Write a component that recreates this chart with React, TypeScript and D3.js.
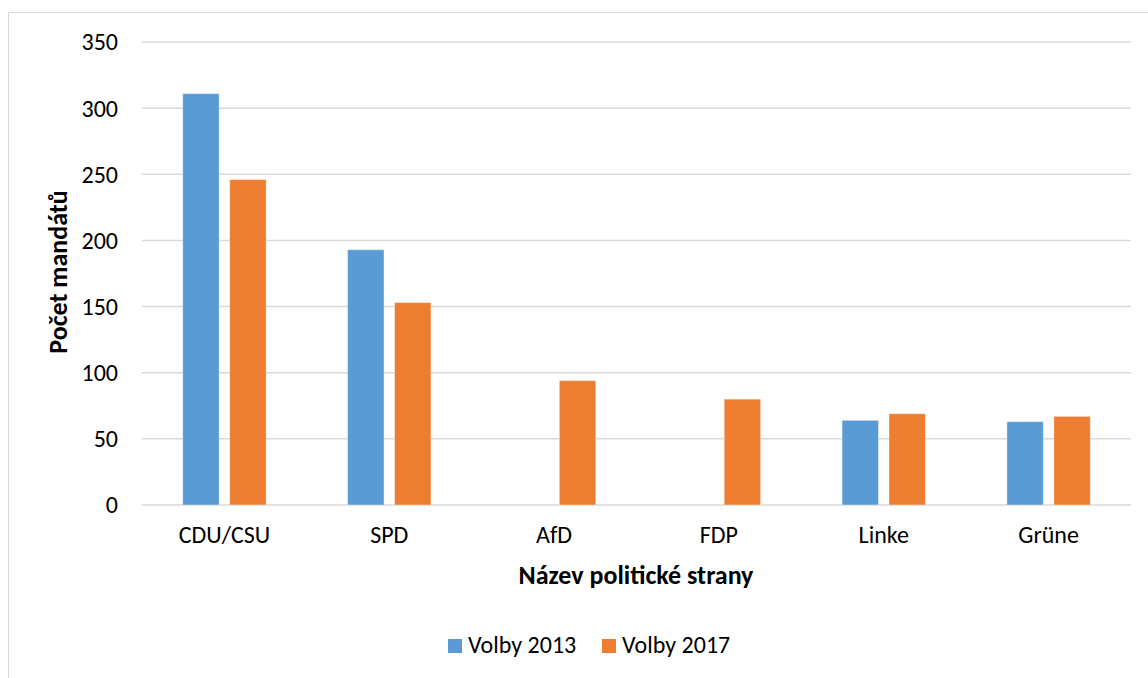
import React from 'react';
import * as d3 from 'd3';

const categories = ['CDU/CSU', 'SPD', 'AfD', 'FDP', 'Linke', 'Grüne'];
const volby2013 = [311, 193, 0, 0, 64, 63];
const volby2017 = [246, 153, 94, 80, 69, 67];
const yTicks = [0, 50, 100, 150, 200, 250, 300, 350];

const seriesList = [
  { name: 'Volby 2013', values: volby2013, color: '#5B9BD5' },
  { name: 'Volby 2017', values: volby2017, color: '#ED7D31' },
];

const width = 1148;
const height = 678;
const font = 'Carlito, Lato, Calibri, sans-serif';

export default function App() {
  const x = d3.scaleBand().domain(categories).range([142, 1131]).padding(0);
  const y = d3.scaleLinear().domain([0, 350]).range([505, 42]);

  const bw = x.bandwidth() * 0.221;
  const gap = x.bandwidth() * 0.064;

  return (
    <svg
      width={width}
      height={height}
      style={{ position: 'absolute', left: 0, top: 0, background: '#fff' }}
    >
      {/* chart frame */}
      <rect x={8.5} y={12.5} width={1300} height={1000} fill="none" stroke="#d9d9d9" strokeWidth={1} />

      {/* gridlines */}
      {yTicks.map(t => (
        <line key={t} x1={142} x2={1131} y1={y(t)} y2={y(t)} stroke="#d9d9d9" strokeWidth={1.5} />
      ))}

      {/* y tick labels */}
      {yTicks.map(t => (
        <text
          key={'l' + t}
          x={118}
          y={y(t)}
          dy="0.35em"
          textAnchor="end"
          fontFamily={font}
          fontSize={24}
          fill="#000"
        >
          {t}
        </text>
      ))}

      {/* bars */}
      {categories.map((c, i) => {
        const center = (x(c) ?? 0) + x.bandwidth() / 2;
        return seriesList.map((s, j) => {
          const v = s.values[i];
          if (!v) return null;
          const bx = j === 0 ? center - gap / 2 - bw : center + gap / 2;
          return (
            <rect
              key={c + s.name}
              x={bx}
              y={y(v)}
              width={bw}
              height={y(0) - y(v)}
              fill={s.color}
              stroke="#fff"
              strokeOpacity={0.4}
              strokeWidth={1}
            />
          );
        });
      })}

      {/* category labels */}
      {categories.map(c => (
        <text
          key={'c' + c}
          x={(x(c) ?? 0) + x.bandwidth() / 2}
          y={543}
          textAnchor="middle"
          fontFamily={font}
          fontSize={24}
          fill="#000"
        >
          {c}
        </text>
      ))}

      {/* axis titles */}
      <text
        x={636}
        y={584}
        textAnchor="middle"
        fontFamily={font}
        fontSize={26}
        fontWeight="bold"
        fill="#000"
      >
        Název politické strany
      </text>
      <text
        transform="translate(67,272) rotate(-90)"
        textAnchor="middle"
        fontFamily={font}
        fontSize={26}
        fontWeight="bold"
        fill="#000"
      >
        Počet mandátů
      </text>

      {/* legend */}
      {seriesList.map((s, j) => {
        const lx = 448 + j * 154;
        return (
          <g key={'lg' + s.name}>
            <rect x={lx} y={639} width={14} height={14} fill={s.color} />
            <text x={lx + 20} y={653} fontFamily={font} fontSize={24} fill="#000">
              {s.name}
            </text>
          </g>
        );
      })}
    </svg>
  );
}
